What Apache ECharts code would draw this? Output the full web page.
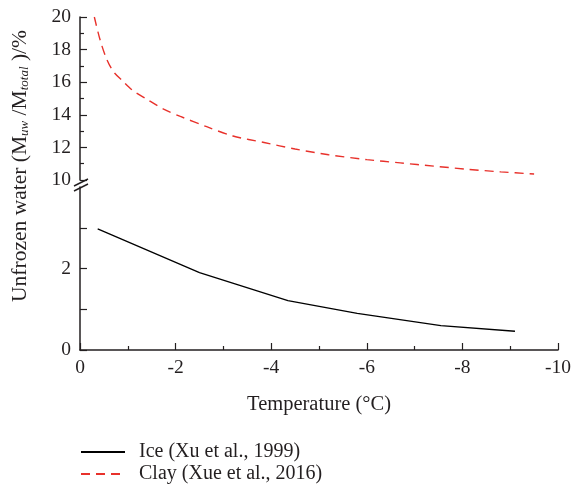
<!DOCTYPE html>
<html>
<head>
<meta charset="utf-8">
<script src="https://cdn.jsdelivr.net/npm/echarts@6/dist/echarts.min.js"></script>
<style>
  html, body { margin: 0; padding: 0; background: #fff; }
  #main { width: 574px; height: 488px; }
</style>
</head>
<body>
<div id="main"></div>
<script>
// Ice (Xu et al., 1999)
var iceTemp = [-0.37, -2.5, -4.35, -5.8, -7.55, -9.1];
var iceWater = [2.97, 1.9, 1.21, 0.9, 0.6, 0.46];

// Clay (Xue et al., 2016)
var clayTemp = [-0.3, -0.42, -0.56, -0.7, -0.9, -1.1, -1.4, -1.75, -2.1, -2.65, -3.2, -3.85, -4.5, -5.2, -6.0, -6.7, -7.4, -8.1, -8.8, -9.5];
var clayWater = [20.0, 18.6, 17.4, 16.65, 16.05, 15.5, 14.95, 14.35, 13.9, 13.27, 12.7, 12.3, 11.9, 11.55, 11.25, 11.05, 10.85, 10.66, 10.5, 10.37];

var seriesNames = ['Ice (Xu et al., 1999)', 'Clay (Xue et al., 2016)'];
var lowerLabels = [0, 2];
var lowerTicks = [0, 1, 2, 3];

function pairs(xs, ys) {
    return xs.map(function (x, i) { return [x, ys[i]]; });
}

var font = 'Liberation Serif';
var ink = '#231f20';

var myChart = echarts.init(document.getElementById('main'));

var xBase = {
    type: 'value',
    min: -10,
    max: 0,
    interval: 2,
    inverse: true,
    splitLine: { show: false }
};

var option = {
    animation: false,
    textStyle: { fontFamily: font },
    grid: [
        { left: 80, right: 16, top: 17, height: 163 },
        { left: 80, right: 16, top: 187, height: 163 }
    ],
    xAxis: [
        Object.assign({}, xBase, { gridIndex: 0, show: false }),
        Object.assign({}, xBase, {
            gridIndex: 1,
            position: 'bottom',
            axisLine: { show: true, onZero: false, lineStyle: { color: ink, width: 1.5 } },
            axisTick: { show: true, inside: true, length: 7, lineStyle: { color: ink, width: 1.2 } },
            minorTick: { show: true, splitNumber: 2, length: 4, lineStyle: { color: ink, width: 1.2 } },
            axisLabel: { color: ink, fontSize: 19.5, fontFamily: font, margin: 8 },
            name: 'Temperature (°C)',
            nameLocation: 'middle',
            nameGap: 44,
            nameTextStyle: { color: ink, fontSize: 20.5, fontFamily: font }
        })
    ],
    yAxis: [
        {
            type: 'value',
            gridIndex: 0,
            min: 10,
            max: 20,
            interval: 2,
            splitLine: { show: false },
            axisLine: { show: true, onZero: false, lineStyle: { color: ink, width: 1.5 } },
            axisTick: { show: true, inside: true, length: 7, lineStyle: { color: ink, width: 1.2 } },
            minorTick: { show: true, splitNumber: 2, length: 4, lineStyle: { color: ink, width: 1.2 } },
            axisLabel: { color: ink, fontSize: 19.5, fontFamily: font, margin: 9, showMinLabel: true, showMaxLabel: true }
        },
        {
            type: 'value',
            gridIndex: 1,
            min: 0,
            max: 4,
            interval: 1,
            splitLine: { show: false },
            axisLine: { show: true, onZero: false, lineStyle: { color: ink, width: 1.5 } },
            axisTick: { show: true, inside: true, length: 7, customValues: lowerTicks, lineStyle: { color: ink, width: 1.2 } },
            axisLabel: { color: ink, fontSize: 19.5, fontFamily: font, margin: 9, customValues: lowerLabels }
        }
    ],
    legend: {
        orient: 'vertical',
        left: 80,
        top: 442,
        padding: 0,
        itemWidth: 44,
        itemHeight: 12,
        itemGap: 2,
        itemStyle: { opacity: 0 },
        textStyle: { color: ink, fontSize: 20, fontFamily: font, padding: [0, 0, 0, 9] },
        data: seriesNames
    },
    graphic: [
        {
            type: 'text',
            x: 20,
            y: 166,
            rotation: Math.PI / 2,
            style: {
                text: 'Unfrozen water (M{s|uw} /M{s|total} )/%',
                fill: ink,
                fontSize: 21.5,
                fontFamily: font,
                align: 'center',
                verticalAlign: 'middle',
                rich: {
                    s: { fontSize: 13, fontStyle: 'italic', fontFamily: font, fill: ink, verticalAlign: 'bottom' }
                }
            }
        },
        { type: 'line', shape: { x1: 74, y1: 186, x2: 88, y2: 179 }, style: { stroke: ink, lineWidth: 1.5 } },
        { type: 'line', shape: { x1: 74, y1: 191, x2: 88, y2: 184 }, style: { stroke: ink, lineWidth: 1.5 } }
    ],
    series: [
        {
            name: seriesNames[0],
            type: 'line',
            xAxisIndex: 1,
            yAxisIndex: 1,
            symbol: 'none',
            lineStyle: { color: '#000', width: 1.3 },
            itemStyle: { color: '#000' },
            data: pairs(iceTemp, iceWater)
        },
        {
            name: seriesNames[1],
            type: 'line',
            xAxisIndex: 0,
            yAxisIndex: 0,
            symbol: 'none',
            smooth: 0.3,
            lineStyle: { color: '#e8312b', width: 1.4, type: [9, 6] },
            itemStyle: { color: '#e8312b' },
            data: pairs(clayTemp, clayWater)
        }
    ]
};

myChart.setOption(option);
</script>
</body>
</html>
